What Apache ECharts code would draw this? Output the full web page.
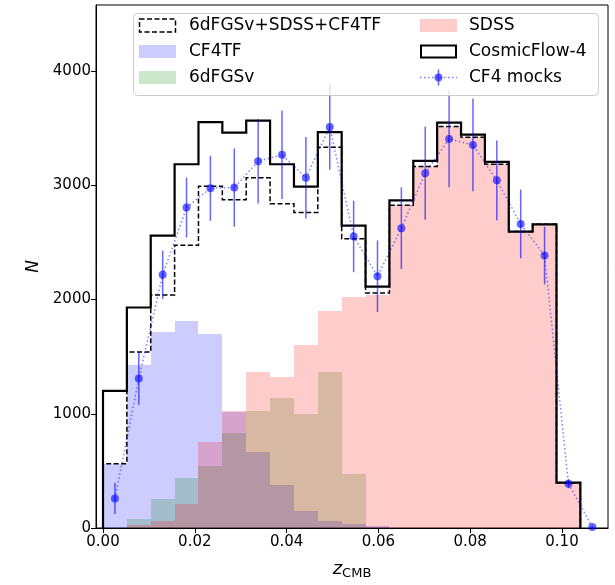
<!DOCTYPE html>
<html><head><meta charset="utf-8">
<script src="https://cdn.jsdelivr.net/npm/echarts@6/dist/echarts.min.js"></script>
<style>html,body{margin:0;padding:0;background:#fff}#c{width:615px;height:585px}</style>
</head><body><div id="c"></div>
<script>
// ---- data ----
const binEdges = [0, 0.0052, 0.0104, 0.0156, 0.0208, 0.0260, 0.0312, 0.0364, 0.0416, 0.0468, 0.0520,
                  0.0572, 0.0624, 0.0676, 0.0728, 0.0780, 0.0832, 0.0884, 0.0936, 0.0988, 0.1040];
const cosmicFlow4 = [1200, 1930, 2560, 3184, 3552, 3460, 3566, 3184, 2989, 3466,
                     2647, 2112, 2868, 3213, 3549, 3443, 3204, 2595, 2658, 397];
const combined = [563, 1540, 2040, 2474, 2991, 2874, 3066, 2839, 2761, 3333,
                  2532, 2057, 2825, 3164, 3514, 3420, 3184, 2595, 2658, 397];
const cf4tf = [563, 1431, 1718, 1810, 1695, 1015, 661, 373, 152, 58,
               32, 17, 0, 0, 0, 0, 0, 0, 0, 0];
const sixdfgsv = [0, 80, 253, 440, 540, 830, 1023, 1135, 1000, 1368,
                  477, 0, 0, 0, 0, 0, 0, 0, 0, 0];
const sdss = [0, 23, 58, 210, 750, 1020, 1368, 1325, 1603, 1897,
              2020, 2040, 2825, 3164, 3514, 3420, 3184, 2595, 2658, 397];
const mockZ = [0.0026, 0.0078, 0.0130, 0.0182, 0.0234, 0.0286, 0.0338, 0.0390, 0.0442, 0.0494, 0.0546,
               0.0598, 0.0650, 0.0702, 0.0754, 0.0806, 0.0858, 0.0910, 0.0962, 0.1014, 0.1066];
const mockN = [259, 1308, 2216, 2805, 2974, 2980, 3210, 3267, 3066, 3511, 2552,
               2204, 2624, 3106, 3405, 3353, 3043, 2661, 2385, 388, 9];
const mockErr = [137, 230, 211, 262, 285, 342, 370, 388, 357, 375, 313,
                 313, 358, 407, 422, 406, 349, 301, 252, 40, 8];
const xTicks = [0, 0.02, 0.04, 0.06, 0.08, 0.10];
const yTicks = [0, 1000, 2000, 3000, 4000];
const legendCol1 = ['6dFGSv+SDSS+CF4TF', 'CF4TF', '6dFGSv'];
const legendCol2 = ['SDSS', 'CosmicFlow-4', 'CF4 mocks'];

// ---- helpers ----
const FONT = 'DejaVu Sans';
function fillSeries(name, values, color, z) {
  return {
    name, type: 'custom', coordinateSystem: 'cartesian2d', z, silent: true,
    data: values.map((v, i) => [binEdges[i], binEdges[i + 1], v]),
    encode: { x: [0, 1], y: 2 },
    renderItem: (params, api) => {
      if (api.value(2) <= 0) return null;
      const a = api.coord([api.value(0), api.value(2)]);
      const b = api.coord([api.value(1), 0]);
      const x0 = Math.round(a[0]), x1 = Math.round(b[0]);
      const y0 = Math.round(a[1]), y1 = Math.round(b[1]);
      return { type: 'rect', shape: { x: x0, y: y0, width: x1 - x0, height: y1 - y0 }, style: { fill: color } };
    }
  };
}
function stepPoints(values) {
  const pts = [[binEdges[0], 0]];
  values.forEach((v, i) => { pts.push([binEdges[i], v]); pts.push([binEdges[i + 1], v]); });
  pts.push([binEdges[binEdges.length - 1], 0]);
  return pts;
}

const chart = echarts.init(document.getElementById('c'), null, { renderer: 'canvas' });

// legend drawn with graphic elements (matplotlib style)
const L = { x: 133, y: 13, w: 465, h: 82 };
const rowY = [25.5, 51.5, 77.5];
const col1X = 139, col2X = 420, swW = 37, swH = 13, txt1X = 189, txt2X = 469;
const gfx = [
  { type: 'rect', shape: { x: L.x + 0.5, y: L.y + 0.5, width: L.w, height: L.h, r: 4 },
    style: { fill: 'rgba(255,255,255,0.8)', stroke: '#cccccc', lineWidth: 1 }, z: 100 },
  { type: 'rect', shape: { x: col1X + 0.5, y: rowY[0] - swH / 2, width: swW - 1, height: swH },
    style: { fill: 'none', stroke: '#000', lineWidth: 1.5, lineDash: [5, 2.5] }, z: 101 },
  { type: 'rect', shape: { x: col1X, y: rowY[1] - swH / 2, width: swW, height: swH },
    style: { fill: 'rgba(0,0,255,0.2)' }, z: 101 },
  { type: 'rect', shape: { x: col1X, y: rowY[2] - swH / 2, width: swW, height: swH },
    style: { fill: 'rgba(0,128,0,0.2)' }, z: 101 },
  { type: 'rect', shape: { x: col2X, y: rowY[0] - swH / 2, width: swW, height: swH },
    style: { fill: 'rgba(255,0,0,0.2)' }, z: 101 },
  { type: 'rect', shape: { x: col2X + 1, y: rowY[1] - swH / 2 + 0.5, width: swW - 2, height: swH - 1 },
    style: { fill: 'none', stroke: '#000', lineWidth: 2 }, z: 101 },
  { type: 'line', shape: { x1: col2X, y1: rowY[2], x2: col2X + swW, y2: rowY[2] },
    style: { stroke: 'rgba(0,0,255,0.5)', lineWidth: 1.5, lineDash: [1.5, 2.5] }, z: 101 },
  { type: 'line', shape: { x1: col2X + swW / 2, y1: rowY[2] - 8, x2: col2X + swW / 2, y2: rowY[2] + 8 },
    style: { stroke: 'rgba(0,0,255,0.6)', lineWidth: 1.5 }, z: 101 },
  { type: 'circle', shape: { cx: col2X + swW / 2, cy: rowY[2], r: 4 },
    style: { fill: 'rgba(0,0,255,0.6)' }, z: 102 }
];
legendCol1.forEach((t, i) => gfx.push({ type: 'text', x: txt1X, y: rowY[i], z: 103,
  style: { text: t, fill: '#000', font: '17px "' + FONT + '"', textVerticalAlign: 'middle', textAlign: 'left' } }));
legendCol2.forEach((t, i) => gfx.push({ type: 'text', x: txt2X, y: rowY[i], z: 103,
  style: { text: t, fill: '#000', font: '17px "' + FONT + '"', textVerticalAlign: 'middle', textAlign: 'left' } }));

const option = {
  animation: false,
  backgroundColor: '#ffffff',
  textStyle: { fontFamily: FONT },
  grid: { left: 96, right: 7, top: 5, bottom: 49, show: true, borderColor: '#000', borderWidth: 1, backgroundColor: 'transparent' },
  xAxis: {
    type: 'value', min: -0.001525, max: 0.11002,
    name: '{i|z}{s|CMB}', nameLocation: 'middle', nameGap: 31,
    nameTextStyle: { rich: { i: { fontSize: 18, fontStyle: 'italic', fontFamily: FONT, color: '#000' },
                             s: { fontSize: 13, fontFamily: FONT, color: '#000', padding: [8, 0, 0, 0] } } },
    axisLine: { show: true, onZero: false, lineStyle: { color: '#000', width: 1 } },
    axisTick: { show: true, customValues: xTicks, length: 5, inside: false, lineStyle: { color: '#000', width: 1 } },
    axisLabel: { customValues: xTicks, formatter: v => v.toFixed(2), fontSize: 15, color: '#000', margin: 7, fontFamily: FONT },
    splitLine: { show: false }
  },
  yAxis: {
    type: 'value', min: 0, max: 4578,
    name: 'N', nameLocation: 'middle', nameGap: 40,
    nameTextStyle: { fontSize: 17, fontStyle: 'italic', color: '#000', fontFamily: FONT },
    axisLine: { show: true, onZero: false, lineStyle: { color: '#000', width: 1 } },
    axisTick: { show: true, customValues: yTicks, length: 5, inside: false, lineStyle: { color: '#000', width: 1 } },
    axisLabel: { customValues: yTicks, formatter: v => String(Math.round(v)), fontSize: 15, color: '#000', margin: 5, fontFamily: FONT },
    splitLine: { show: false }
  },
  graphic: gfx,
  series: [
    fillSeries('CF4TF', cf4tf, 'rgba(0,0,255,0.2)', 1),
    fillSeries('6dFGSv', sixdfgsv, 'rgba(0,128,0,0.2)', 1),
    fillSeries('SDSS', sdss, 'rgba(255,0,0,0.2)', 1),
    { name: '6dFGSv+SDSS+CF4TF', type: 'line', data: stepPoints(combined), symbol: 'none', z: 3, silent: true,
      lineStyle: { color: '#000', width: 1.5, type: [5, 2.5], join: 'miter' } },
    { name: 'CosmicFlow-4', type: 'line', data: stepPoints(cosmicFlow4), symbol: 'none', z: 4, silent: true,
      lineStyle: { color: '#000', width: 2.2, join: 'miter' } },
    { name: 'CF4 mocks errors', type: 'custom', coordinateSystem: 'cartesian2d', z: 5, silent: true,
      data: mockZ.map((z, i) => [z, mockN[i] - mockErr[i], mockN[i] + mockErr[i]]),
      encode: { x: 0, y: [1, 2] },
      renderItem: (params, api) => {
        const a = api.coord([api.value(0), api.value(1)]);
        const b = api.coord([api.value(0), api.value(2)]);
        return { type: 'line', shape: { x1: a[0], y1: a[1], x2: b[0], y2: b[1] },
                 style: { stroke: 'rgba(0,0,255,0.6)', lineWidth: 1.5 } };
      } },
    { name: 'CF4 mocks', type: 'line', data: mockZ.map((z, i) => [z, mockN[i]]), z: 6, silent: true,
      symbol: 'circle', symbolSize: 8, itemStyle: { color: 'rgba(0,0,255,0.6)' },
      lineStyle: { color: 'rgba(0,0,255,0.5)', width: 1.5, type: [1.5, 2.5] } }
  ]
};
chart.setOption(option);
</script>
</body></html>
